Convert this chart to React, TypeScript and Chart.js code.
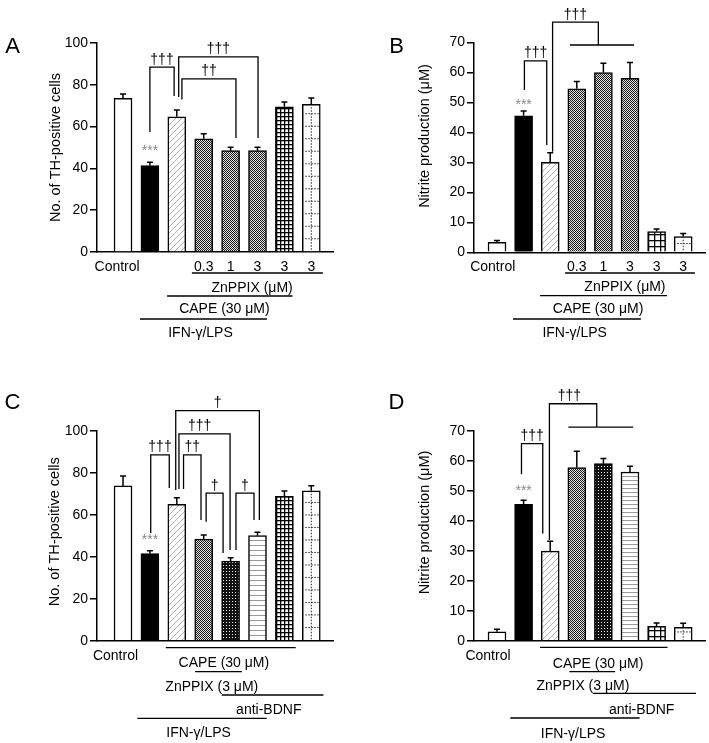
import React, { useEffect, useRef } from "react";
import { Chart, registerables } from "chart.js";

Chart.register(...registerables);

const FONT = "'Liberation Sans', Arial, Helvetica, sans-serif";
const W = 709;
const H = 743;

// ---------- data ----------
const groupsAB = ["Control", "IFN-γ/LPS", "+CAPE", "+CAPE+ZnPPIX 0.3", "+CAPE+ZnPPIX 1", "+CAPE+ZnPPIX 3", "CAPE+ZnPPIX 3", "ZnPPIX 3"];
const xTickLabelsAB = ["Control", "", "", "0.3", "1", "3", "3", "3"];
const groupsCD = ["Control", "IFN-γ/LPS", "+CAPE", "+CAPE+ZnPPIX", "+CAPE+ZnPPIX+anti-BDNF", "+CAPE+anti-BDNF", "CAPE+anti-BDNF", "anti-BDNF"];
const xTickLabelsCD = ["Control", "", "", "", "", "", "", ""];

const yTicksTH = [0, 20, 40, 60, 80, 100];
const yTicksNO = [0, 10, 20, 30, 40, 50, 60, 70];

const thCellsA = [73.5, 41.3, 64.7, 54.2, 48.5, 48.5, 69.5, 70.7];
const thCellsErrA = [2.1, 1.6, 3.2, 2.4, 1.6, 1.6, 2.3, 3.0];

const nitriteB = [3.3, 45.5, 30.0, 54.5, 59.9, 58.0, 6.9, 5.2];
const nitriteErrB = [0.6, 1.6, 3.2, 2.4, 3.1, 5.3, 0.9, 1.1];

const thCellsC = [73.8, 41.5, 65.0, 48.5, 38.0, 50.1, 68.9, 71.5];
const thCellsErrC = [4.7, 1.4, 3.2, 1.9, 1.6, 1.6, 2.5, 2.4];

const nitriteD = [3.0, 45.5, 29.9, 57.8, 59.1, 56.3, 4.8, 4.5];
const nitriteErrD = [0.8, 1.4, 3.3, 5.4, 1.7, 1.9, 1.1, 1.3];

const fillsAB = ["open", "solid", "hatch", "check", "check", "check", "grid", "dotted"];
const fillsCD = ["open", "solid", "hatch", "check", "darkcheck", "hstripe", "grid", "dotted"];

// ---------- types ----------
type Bracket = { x1: number; y1: number; x2: number; y2: number; top: number; label: string; labelX?: number; bar?: [number, number] };
type UnderText = { x: number; dy: number; text: string };
type UnderLine = { x1: number; x2: number; dy: number };

interface PanelCfg {
  letter: string;
  letterX: number;
  letterY: number;
  title: string;
  titleX: number;
  titleY: number;
  groups: string[];
  values: number[];
  errors: number[];
  fills: string[];
  tickLabels: string[];
  yTicks: number[];
  area: { left: number; right: number; top: number; bottom: number };
  xMin: number;
  xMax: number;
  controlX: number;
  tickDy: number;
  brackets: Bracket[];
  texts: UnderText[];
  lines: UnderLine[];
  starDy: number;
  gridSize: number;
  stripe: number;
  dotGap: number;
}

const panels: PanelCfg[] = [
  {
    letter: "A", letterX: 12.5, letterY: 45,
    title: "No. of TH-positive cells", titleX: 56, titleY: 147.5,
    groups: groupsAB, values: thCellsA, errors: thCellsErrA, fills: fillsAB, tickLabels: xTickLabelsAB,
    yTicks: yTicksTH,
    area: { left: 97, right: 333, top: 43, bottom: 252 },
    xMin: -0.967, xMax: 7.807, controlX: -0.22, tickDy: 14,
    brackets: [
      { x1: 1.0, y1: 57.4, x2: 1.9, y2: 74.6, top: 88.5, label: "†††" },
      { x1: 2.07, y1: 74.2, x2: 5.02, y2: 54.5, top: 93.4, label: "†††" },
      { x1: 2.19, y1: 73.0, x2: 4.2, y2: 54.5, top: 82.8, label: "††" },
    ],
    texts: [
      { x: 4.8, dy: 35, text: "ZnPPIX (μM)" },
      { x: 3.77, dy: 56, text: "CAPE (30 μM)" },
      { x: 2.88, dy: 80, text: "IFN-γ/LPS" },
    ],
    lines: [
      { x1: 2.56, x2: 7.43, dy: 21 },
      { x1: 1.64, x2: 6.3, dy: 44 },
      { x1: 0.63, x2: 5.35, dy: 67 },
    ],
    starDy: 16, gridSize: 4, stripe: 5, dotGap: 12.5,
  },
  {
    letter: "B", letterX: 396.5, letterY: 45,
    title: "Nitrite production (μM)", titleX: 425, titleY: 136,
    groups: groupsAB, values: nitriteB, errors: nitriteErrB, fills: fillsAB, tickLabels: xTickLabelsAB,
    yTicks: yTicksNO,
    area: { left: 474, right: 705, top: 42.3, bottom: 252.3 },
    xMin: -0.865, xMax: 7.82, controlX: -0.16, tickDy: 14,
    brackets: [
      { x1: 1.03, y1: 54.1, x2: 1.87, y2: 35.8, top: 63.8, label: "†††" },
      { x1: 2.09, y1: 33.5, x2: 3.81, y2: 69.1, top: 76.7, label: "†††", bar: [2.74, 5.15] },
    ],
    texts: [
      { x: 4.81, dy: 34, text: "ZnPPIX (μM)" },
      { x: 3.8, dy: 56, text: "CAPE (30 μM)" },
      { x: 2.92, dy: 80, text: "IFN-γ/LPS" },
    ],
    lines: [
      { x1: 2.56, x2: 7.44, dy: 20.7 },
      { x1: 1.62, x2: 6.39, dy: 43.4 },
      { x1: 0.6, x2: 5.41, dy: 66.7 },
    ],
    starDy: 11, gridSize: 6, stripe: 4, dotGap: 8,
  },
  {
    letter: "C", letterX: 12.5, letterY: 401,
    title: "No. of TH-positive cells", titleX: 55, titleY: 531.7,
    groups: groupsCD, values: thCellsC, errors: thCellsErrC, fills: fillsCD, tickLabels: xTickLabelsCD,
    yTicks: yTicksTH,
    area: { left: 97, right: 333, top: 431, bottom: 640.7 },
    xMin: -0.967, xMax: 7.807, controlX: -0.28, tickDy: 14,
    brackets: [
      { x1: 1.96, y1: 71.9, x2: 5.07, y2: 57.6, top: 109.7, label: "†" },
      { x1: 2.08, y1: 72.3, x2: 3.98, y2: 43.3, top: 98.6, label: "†††", labelX: 2.85 },
      { x1: 1.03, y1: 51.4, x2: 1.72, y2: 72.8, top: 88.6, label: "†††" },
      { x1: 2.25, y1: 72.3, x2: 2.9, y2: 57.6, top: 88.6, label: "††" },
      { x1: 3.09, y1: 56.7, x2: 3.72, y2: 41.8, top: 70.4, label: "†" },
      { x1: 4.2, y1: 43.3, x2: 4.87, y2: 57.6, top: 70.4, label: "†" },
    ],
    texts: [
      { x: 3.75, dy: 21.5, text: "CAPE (30 μM)" },
      { x: 3.3, dy: 45, text: "ZnPPIX (3 μM)" },
      { x: 5.42, dy: 68.3, text: "anti-BDNF" },
      { x: 2.81, dy: 91, text: "IFN-γ/LPS" },
    ],
    lines: [
      { x1: 1.59, x2: 6.42, dy: 7 },
      { x1: 2.68, x2: 4.42, dy: 31 },
      { x1: 3.67, x2: 7.45, dy: 54.3 },
      { x1: 0.53, x2: 5.34, dy: 77.6 },
    ],
    starDy: 15, gridSize: 4, stripe: 5, dotGap: 12.5,
  },
  {
    letter: "D", letterX: 396.5, letterY: 401,
    title: "Nitrite production (μM)", titleX: 425, titleY: 522.5,
    groups: groupsCD, values: nitriteD, errors: nitriteErrD, fills: fillsCD, tickLabels: xTickLabelsCD,
    yTicks: yTicksNO,
    area: { left: 474, right: 705, top: 431, bottom: 640.7 },
    xMin: -0.865, xMax: 7.82, controlX: -0.34, tickDy: 14,
    brackets: [
      { x1: 0.92, y1: 55.6, x2: 1.72, y2: 35.8, top: 65.8, label: "†††" },
      { x1: 1.97, y1: 33.6, x2: 3.75, y2: 71.3, top: 79.1, label: "†††", labelX: 2.72, bar: [2.68, 5.12] },
    ],
    texts: [
      { x: 3.8, dy: 22, text: "CAPE (30 μM)" },
      { x: 3.23, dy: 44, text: "ZnPPIX (3 μM)" },
      { x: 5.44, dy: 68, text: "anti-BDNF" },
      { x: 2.86, dy: 92, text: "IFN-γ/LPS" },
    ],
    lines: [
      { x1: 1.62, x2: 6.41, dy: 6.6 },
      { x1: 2.72, x2: 4.44, dy: 31 },
      { x1: 3.6, x2: 7.48, dy: 52.6 },
      { x1: 0.5, x2: 5.36, dy: 77.3 },
    ],
    starDy: 14, gridSize: 6, stripe: 4, dotGap: 8,
  },
];

// ---------- patterns ----------
function tile(w: number, h: number, draw: (g: CanvasRenderingContext2D) => void): CanvasPattern | string {
  const c = document.createElement("canvas");
  c.width = w;
  c.height = h;
  const g = c.getContext("2d");
  if (!g) return "#888";
  draw(g);
  return g.createPattern(c, "repeat") || "#888";
}

function makeFill(kind: string, cfg: PanelCfg): CanvasPattern | string {
  switch (kind) {
    case "open":
    case "dotted":
      return "#ffffff";
    case "solid":
      return "#000000";
    case "hatch":
      return tile(6, 6, (g) => {
        g.fillStyle = "#fff";
        g.fillRect(0, 0, 6, 6);
        g.strokeStyle = "#a8a8a8";
        g.lineWidth = 0.9;
        g.beginPath();
        g.moveTo(-1, 7); g.lineTo(7, -1);
        g.moveTo(-1, 1); g.lineTo(1, -1);
        g.moveTo(5, 7); g.lineTo(7, 5);
        g.stroke();
      });
    case "check":
      return tile(2, 2, (g) => {
        g.fillStyle = "#e2e2e2";
        g.fillRect(0, 0, 2, 2);
        g.fillStyle = "#1a1a1a";
        g.fillRect(0, 0, 1, 1);
        g.fillRect(1, 1, 1, 1);
      });
    case "darkcheck":
      return tile(3, 3, (g) => {
        g.fillStyle = "#111";
        g.fillRect(0, 0, 3, 3);
        g.fillStyle = "#eee";
        g.fillRect(1, 1, 1, 1);
      });
    case "hstripe":
      return tile(4, cfg.stripe, (g) => {
        g.fillStyle = "#fff";
        g.fillRect(0, 0, 4, cfg.stripe);
        g.fillStyle = "#9a9a9a";
        g.fillRect(0, 0, 4, 1);
      });
    case "grid":
      return tile(cfg.gridSize, cfg.gridSize, (g) => {
        const s = cfg.gridSize;
        g.fillStyle = "#fff";
        g.fillRect(0, 0, s, s);
        g.fillStyle = "#000";
        g.fillRect(0, 0, s, 1.3);
        g.fillRect(0, 0, 1.3, s);
      });
    default:
      return "#fff";
  }
}

// ---------- decoration plugin ----------
function decorPlugin(cfg: PanelCfg) {
  return {
    id: "decor" + cfg.letter,
    afterDatasetsDraw(chart: any) {
      const ctx: CanvasRenderingContext2D = chart.ctx;
      const xs = chart.scales.x;
      const ys = chart.scales.y;
      const px = (v: number) => xs.getPixelForValue(v);
      const py = (v: number) => ys.getPixelForValue(v);
      const base = ys.getPixelForValue(0);
      const meta = chart.getDatasetMeta(0);
      ctx.save();

      // dotted bar details
      meta.data.forEach((el: any, i: number) => {
        if (cfg.fills[i] !== "dotted") return;
        const p = el.getProps(["x", "y", "base", "width"], true);
        ctx.save();
        ctx.beginPath();
        ctx.rect(p.x - p.width / 2 + 1.5, p.y + 1.5, p.width - 3, p.base - p.y - 1.5);
        ctx.clip();
        ctx.setLineDash([1.5, 1.5]);
        ctx.strokeStyle = "#222";
        ctx.lineWidth = 1;
        ctx.beginPath();
        ctx.moveTo(p.x, p.y);
        ctx.lineTo(p.x, p.base);
        for (let yy = p.base - cfg.dotGap; yy > p.y + 2; yy -= cfg.dotGap) {
          ctx.moveTo(p.x - p.width / 2, yy);
          ctx.lineTo(p.x + p.width / 2, yy);
        }
        ctx.stroke();
        ctx.restore();
      });

      // error bars (upper only)
      ctx.strokeStyle = "#000";
      ctx.lineWidth = 1.5;
      meta.data.forEach((el: any, i: number) => {
        const p = el.getProps(["x", "y"], true);
        const yt = py(cfg.values[i] + cfg.errors[i]);
        ctx.beginPath();
        ctx.moveTo(p.x, p.y);
        ctx.lineTo(p.x, yt);
        ctx.moveTo(p.x - 3, yt);
        ctx.lineTo(p.x + 3, yt);
        ctx.stroke();
      });

      // significance stars above IFN bar
      ctx.fillStyle = "#8a8a8a";
      ctx.font = `14px ${FONT}`;
      ctx.textAlign = "center";
      ctx.textBaseline = "alphabetic";
      const starY = py(cfg.values[1] + cfg.errors[1]) - cfg.starDy;
      ctx.fillText("***", px(1), starY + 8.5);

      // brackets
      ctx.strokeStyle = "#000";
      ctx.lineWidth = 1.3;
      ctx.fillStyle = "#000";
      ctx.font = `14px ${FONT}`;
      cfg.brackets.forEach((b) => {
        ctx.beginPath();
        ctx.moveTo(px(b.x1), py(b.y1));
        ctx.lineTo(px(b.x1), py(b.top));
        ctx.lineTo(px(b.x2), py(b.top));
        ctx.lineTo(px(b.x2), py(b.y2));
        if (b.bar) {
          ctx.moveTo(px(b.bar[0]), py(b.y2));
          ctx.lineTo(px(b.bar[1]), py(b.y2));
        }
        ctx.stroke();
        const lx = b.labelX !== undefined ? b.labelX : (b.x1 + b.x2) / 2;
        ctx.fillText(b.label, px(lx), py(b.top) - 3.5);
      });

      // x tick labels
      ctx.font = `14px ${FONT}`;
      cfg.tickLabels.forEach((t, i) => {
        if (!t) return;
        const x = i === 0 ? px(cfg.controlX) : px(i);
        ctx.fillText(t, x, base + cfg.tickDy + 5);
      });

      // treatment lines and labels
      ctx.lineWidth = 1.3;
      cfg.lines.forEach((l) => {
        ctx.beginPath();
        ctx.moveTo(px(l.x1), base + l.dy);
        ctx.lineTo(px(l.x2), base + l.dy);
        ctx.stroke();
      });
      cfg.texts.forEach((t) => {
        ctx.fillText(t.text, px(t.x), base + t.dy + 5);
      });

      // y title
      ctx.save();
      ctx.font = `14.5px ${FONT}`;
      ctx.translate(cfg.titleX + 3.6, cfg.titleY);
      ctx.rotate(-Math.PI / 2);
      ctx.textAlign = "center";
      ctx.fillText(cfg.title, 0, 0);
      ctx.restore();

      // panel letter
      ctx.font = `22px ${FONT}`;
      ctx.textAlign = "center";
      ctx.fillText(cfg.letter, cfg.letterX, cfg.letterY + 7.9);

      ctx.restore();
    },
  };
}

function buildChart(canvas: HTMLCanvasElement, cfg: PanelCfg): Chart {
  const AXW = 40;
  const fills = cfg.fills.map((f) => makeFill(f, cfg));
  const yMax = cfg.yTicks[cfg.yTicks.length - 1];
  const yStep = cfg.yTicks[1] - cfg.yTicks[0];
  return new Chart(canvas, {
    type: "bar",
    data: {
      labels: cfg.groups,
      datasets: [
        {
          data: cfg.values.map((v, i) => ({ x: i, y: v })) as any,
          backgroundColor: fills as any,
          borderColor: "#000",
          borderWidth: 1.5,
          barThickness: 18,
        },
      ],
    },
    options: {
      responsive: false,
      animation: false,
      events: [],
      layout: {
        padding: {
          left: cfg.area.left - AXW,
          right: W - cfg.area.right,
          top: cfg.area.top,
          bottom: H - cfg.area.bottom,
        },
      },
      plugins: { legend: { display: false }, tooltip: { enabled: false } },
      scales: {
        x: {
          type: "linear",
          min: cfg.xMin,
          max: cfg.xMax,
          offset: false,
          grid: { display: false },
          ticks: { display: false },
          border: { display: true, color: "#000", width: 1.5 },
          afterFit: (s: any) => {
            s.height = 0;
          },
        },
        y: {
          type: "linear",
          min: 0,
          max: yMax,
          ticks: {
            stepSize: yStep,
            color: "#000",
            padding: 2,
            font: { family: FONT, size: 14 },
          },
          grid: {
            drawOnChartArea: false,
            drawTicks: true,
            tickLength: 7,
            color: "#000",
            lineWidth: 1.5,
          },
          border: { display: true, color: "#000", width: 1.5 },
          afterFit: (s: any) => {
            s.width = AXW;
          },
        },
      } as any,
    },
    plugins: [decorPlugin(cfg)],
  });
}

export default function App() {
  const refs = [useRef<HTMLCanvasElement>(null), useRef<HTMLCanvasElement>(null), useRef<HTMLCanvasElement>(null), useRef<HTMLCanvasElement>(null)];

  useEffect(() => {
    const charts: Chart[] = [];
    panels.forEach((cfg, i) => {
      const c = refs[i].current;
      if (c) charts.push(buildChart(c, cfg));
    });
    return () => {
      charts.forEach((ch) => ch.destroy());
    };
  }, []);

  return (
    <div style={{ position: "absolute", left: 0, top: 0, width: W, height: H, background: "#fff" }}>
      {panels.map((p, i) => (
        <canvas
          key={p.letter}
          ref={refs[i]}
          width={W}
          height={H}
          style={{ position: "absolute", left: 0, top: 0, width: W, height: H }}
        />
      ))}
    </div>
  );
}
